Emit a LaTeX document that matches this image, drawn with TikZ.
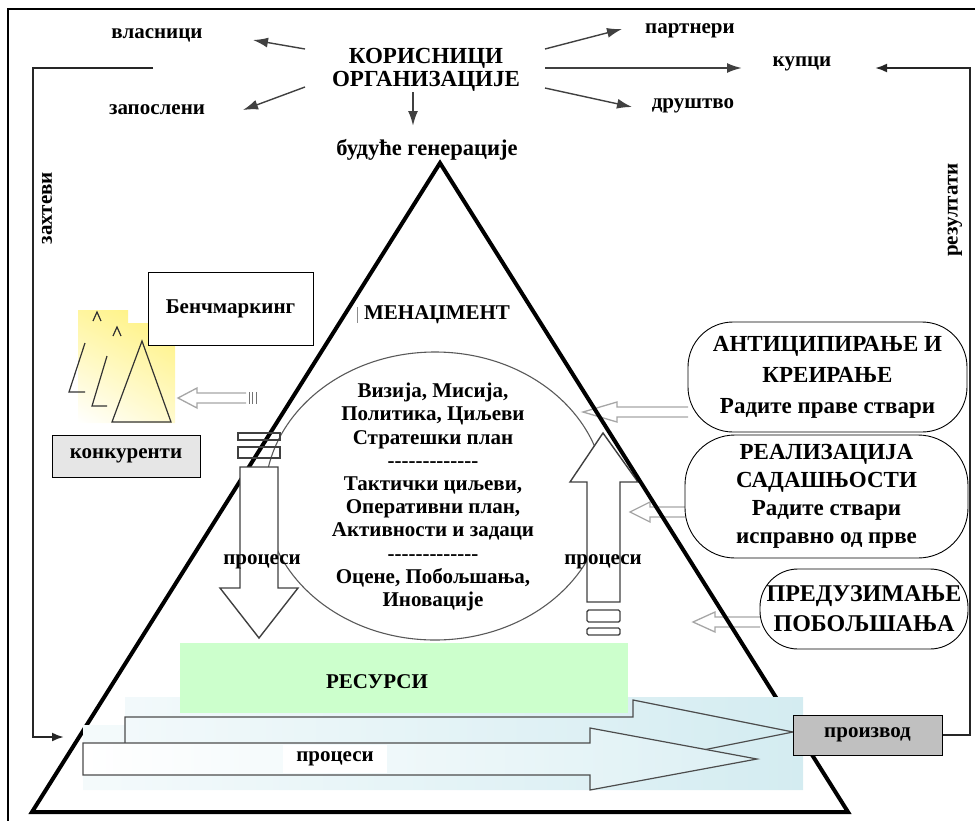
\documentclass[tikz,border=0pt]{standalone}
\usepackage{fontspec}
\setmainfont{Liberation Serif}
\usetikzlibrary{arrows.meta,shadings}
\definecolor{resgreen}{HTML}{CCFFCC}
\definecolor{prodgray}{HTML}{C0C0C0}
\definecolor{rivalgray}{HTML}{E6E6E6}
\definecolor{flowcyan}{HTML}{D4ECF1}
\definecolor{benchyellow}{HTML}{FFF176}
\newcommand{\dashrow}{-\kern0pt-\kern0pt-\kern0pt-\kern0pt-\kern0pt-\kern0pt-\kern0pt-\kern0pt-\kern0pt-\kern0pt-\kern0pt-\kern0pt-}
\begin{document}
\begin{tikzpicture}[x=1pt,y=-1pt,
  lbl/.style={font=\fontsize{21}{23}\selectfont\bfseries, inner sep=0pt, align=center},
  fan/.style={draw=black!75, line width=1.4pt, -{Latex[length=15pt,width=10pt]}},
  loopline/.style={draw=black!85, line width=2.2pt},
  hollow/.style={draw=black!75, line width=1.4pt, fill=white, line join=miter},
  sidearrow/.style={draw=black!35, line width=1.3pt, fill=white},
  rbox/.style={draw, line width=0.9pt, fill=white, align=center, inner sep=0pt,
    font=\bfseries\fontsize{23}{28}\selectfont},
  sketch/.style={draw=black!80, line width=1.2pt},
]
\useasboundingbox (0,0) rectangle (975,820);

% outer frame
\draw[line width=1.5pt] (8,822) -- (8,9) -- (978,9);

% --- stakeholders at the top ---
\node[lbl] (owners)   at (157,35)  {власници};
\node[lbl] (staff)    at (157,110) {запослени};
\node[lbl, font=\fontsize{23}{23}\selectfont\bfseries] (users) at (426,70) {КОРИСНИЦИ\\ОРГАНИЗАЦИЈЕ};
\node[lbl, font=\fontsize{22.5}{23}\selectfont\bfseries] (future) at (427,150) {будуће генерације};
\node[lbl] (partners) at (690,31)  {партнери};
\node[lbl] (buyers)   at (802,64)  {купци};
\node[lbl] (society)  at (693,106) {друштво};

\coordinate (uOwn)  at (305,49);  \coordinate (tOwn)  at (253,40);
\coordinate (uStf)  at (305,87);  \coordinate (tStf)  at (243,110);
\coordinate (uPar)  at (545,49);  \coordinate (tPar)  at (622,29);
\coordinate (uBuy)  at (545,68);  \coordinate (tBuy)  at (742,68);
\coordinate (uSoc)  at (545,88);  \coordinate (tSoc)  at (632,107);
\coordinate (uFut)  at (413,92);  \coordinate (tFut)  at (413,126);
\draw[fan] (uOwn) -- (tOwn);
\draw[fan] (uStf) -- (tStf);
\draw[fan] (uPar) -- (tPar);
\draw[fan, line width=2pt] (uBuy) -- (tBuy);
\draw[fan] (uSoc) -- (tSoc);
\draw[fan, line width=2pt] (uFut) -- (tFut);

% --- requirements / results loop ---
\coordinate (reqStart) at (153,68);
\coordinate (reqTop)   at (33,68);
\coordinate (reqBot)   at (33,737);
\coordinate (reqEnd)   at (64,737);
\draw[loopline, -{Latex[length=12pt,width=9pt]}] (reqStart) -- (reqTop) -- (reqBot) -- (reqEnd);
\node[lbl, rotate=90] (req) at (47,208) {захтеви};

\coordinate (resCorner) at (970,735);
\coordinate (resTop)    at (970,68);
\coordinate (resEnd)    at (875,68);
\node[lbl, rotate=90] (res) at (955,210) {резултати};

% --- management ellipse ---
\draw[black!65, line width=1.1pt] (435,496) ellipse [x radius=170pt, y radius=144pt];

% hollow arrows from the three strategies
\draw[sidearrow] (688,407) -- (617,407) -- (617,402) -- (583,412) -- (617,422) -- (617,417) -- (688,417);
\draw[sidearrow] (685,507) -- (650,507) -- (650,502) -- (630,512) -- (650,522) -- (650,517) -- (685,517);
\draw[sidearrow] (760,617) -- (715,617) -- (715,612) -- (693,622) -- (715,632) -- (715,627) -- (760,627);

% upward process arrow
\draw[hollow] (587,602) -- (620,602) -- (620,482) -- (638,482) -- (603,433) -- (570,482) -- (587,482) -- cycle;
\draw[draw=black!75, line width=1.4pt, rounded corners=1.5pt] (587,610) rectangle (620,622);
\draw[draw=black!75, line width=1.4pt, rounded corners=1.5pt] (587,628) rectangle (620,635);

% pyramid
\coordinate (apex)  at (440,163);
\coordinate (baseL) at (32,812);
\coordinate (baseR) at (848,812);
\draw[line width=4pt, line join=miter] (apex) -- (baseR) -- (baseL) -- cycle;

% downward process arrow
\draw[draw=black!75, line width=1.3pt] (238,433) rectangle (280,440);
\draw[draw=black!75, line width=1.3pt] (238,447) rectangle (280,458);
\draw[hollow] (240,467) -- (278,467) -- (278,588) -- (298,588) -- (259,638) -- (220,588) -- (240,588) -- cycle;

\node[lbl] (procL) at (262,562) {процеси};
\node[lbl] (procR) at (603,562) {процеси};

\node[lbl] (mgmt) at (437,315) {МЕНАЏМЕНТ};
\draw[black!45, line width=0.8pt] (357,307) -- (357,323);

\node[lbl, font=\fontsize{21}{23.2}\selectfont\bfseries] (plan) at (433,497)
  {Визија, Мисија,\\Политика, Циљеви\\Стратешки план\\\dashrow\\Тактички циљеви,\\Оперативни план,\\Активности и задаци\\\dashrow\\Оцене, Побољшања,\\Иновације};

% --- benchmarking ---
\shade[upper left=benchyellow!70, upper right=benchyellow, lower left=white, lower right=benchyellow!35]
  (78,310) -- (128,310) -- (128,323) -- (175,323) -- (175,423) -- (78,423) -- cycle;
\draw[sketch] (93,321) -- (97,312) -- (101,321);
\draw[sketch] (85,343) -- (69,392) -- (85,392);
\draw[sketch] (113,336) -- (117,327) -- (121,336);
\draw[sketch] (107,356) -- (92,406) -- (107,406);
\draw[sketch, line join=miter] (142,341) -- (171,422) -- (112,422) -- cycle;

\node[draw, line width=1pt, fill=white, minimum width=165pt, minimum height=73pt,
  font=\fontsize{21}{23}\selectfont\bfseries] (bench) at (230.5,308.5) {Бенчмаркинг};
\node[draw, line width=1pt, fill=rivalgray, minimum width=148pt, minimum height=42pt,
  font=\fontsize{21}{23}\selectfont\bfseries] (rivals) at (126,456) {конкуренти};

\draw[sidearrow] (246,393) -- (197,393) -- (197,388) -- (178,398) -- (197,408) -- (197,403) -- (246,403);
\draw[black!55, line width=1pt] (249,392) -- (249,404) (252.5,392) -- (252.5,404) (256,392) -- (256,404);

% --- strategies ---
\node[rbox, rounded corners=45pt, minimum width=279pt, minimum height=110pt,
  font=\bfseries\fontsize{23}{31}\selectfont] (anticip) at (827.5,377)
  {АНТИЦИПИРАЊЕ И\\КРЕИРАЊЕ\\Радите праве ствари};
\node[rbox, rounded corners=50pt, minimum width=283pt, minimum height=123pt] (realiz) at (826.5,496.5)
  {РЕАЛИЗАЦИЈА\\САДАШЊОСТИ\\Радите ствари\\исправно од прве};
\node[rbox, rounded corners=38pt, minimum width=208pt, minimum height=80pt,
  font=\bfseries\fontsize{24}{30}\selectfont] (improve) at (864,609)
  {ПРЕДУЗИМАЊЕ\\ПОБОЉШАЊА};

% --- process flow at the base ---
\shade[left color=flowcyan!25, right color=flowcyan]
  (83,725) -- (125,725) -- (125,697) -- (803,697) -- (803,790) -- (83,790) -- cycle;
\shade[left color=flowcyan!30, right color=flowcyan, draw=black!70, line width=1.2pt]
  (125,725) -- (125,717) -- (633,717) -- (633,700) -- (793,732) -- (633,764) -- (633,747) -- (125,747) -- cycle;
\shade[left color=white, right color=flowcyan!80, draw=black!70, line width=1.2pt]
  (83,743) -- (590,743) -- (590,728) -- (757,759) -- (590,790) -- (590,775) -- (83,775) -- cycle;

\node[fill=resgreen, minimum width=448pt, minimum height=70pt, inner sep=0pt] (resbox) at (404,678) {};
\node[lbl] (resources) at (377,682) {РЕСУРСИ};

\node[fill=white, minimum width=104pt, minimum height=28pt, inner sep=0pt,
  font=\fontsize{21}{23}\selectfont\bfseries] (procB) at (335,759) {процеси};

\node[draw, line width=1pt, fill=prodgray, minimum width=149pt, minimum height=40pt,
  font=\fontsize{21}{23}\selectfont\bfseries] (product) at (867.5,735) {производ};

\draw[loopline, -{Latex[length=12pt,width=9pt]}] (product.east) -- (resCorner) -- (resTop) -- (resEnd);
\end{tikzpicture}
\end{document}
